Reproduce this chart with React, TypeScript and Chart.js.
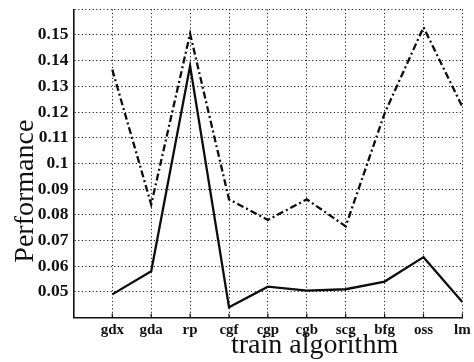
import React, { useEffect, useRef } from "react";
import { Chart, registerables } from "chart.js";

Chart.register(...registerables);

// Training algorithms along the x axis
const algorithms = ["gdx", "gda", "rp", "cgf", "cgp", "cgb", "scg", "bfg", "oss", "lm"];

// Performance of each training algorithm (solid curve)
const performanceA = [0.049, 0.058, 0.138, 0.044, 0.052, 0.0505, 0.051, 0.054, 0.0635, 0.046];

// Performance of each training algorithm (dash-dot curve)
const performanceB = [0.1365, 0.084, 0.1505, 0.086, 0.078, 0.086, 0.0755, 0.1195, 0.153, 0.122];

const yMin = 0.04;
const yMax = 0.16;
const yStep = 0.01;

const xTitle = "train algorithm";
const yTitle = "Performance";

const FONT = '"Liberation Serif", "Times New Roman", serif';

const titlesPlugin = {
  id: "axisTitles",
  afterDraw(chart: any) {
    const { ctx, chartArea } = chart;
    ctx.save();
    ctx.fillStyle = "#111";
    ctx.font = `28px ${FONT}`;
    ctx.textBaseline = "alphabetic";
    ctx.textAlign = "center";
    // x title, sitting under the tick labels
    ctx.fillText(xTitle, chartArea.left + (chartArea.right - chartArea.left) * 0.62, 353);
    // y title, rotated
    ctx.translate(33, chartArea.top + (chartArea.bottom - chartArea.top) * 0.59);
    ctx.rotate(-Math.PI / 2);
    ctx.fillText(yTitle, 0, 0);
    ctx.restore();
  },
};

const innerTicksPlugin = {
  id: "innerTicks",
  afterDatasetsDraw(chart: any) {
    const { ctx, chartArea, scales } = chart;
    const x = scales.x;
    ctx.save();
    ctx.strokeStyle = "#111";
    ctx.lineWidth = 1.2;
    ctx.beginPath();
    for (let i = 1; i <= algorithms.length; i++) {
      const px = x.getPixelForValue(i);
      ctx.moveTo(px, chartArea.bottom);
      ctx.lineTo(px, chartArea.bottom - 4);
    }
    ctx.stroke();
    ctx.restore();
  },
};

export default function App() {
  const canvasRef = useRef<HTMLCanvasElement | null>(null);

  useEffect(() => {
    const canvas = canvasRef.current;
    if (!canvas) return;

    const chart = new Chart(canvas, {
      type: "line",
      data: {
        datasets: [
          {
            label: "solid",
            data: algorithms.map((_, i) => ({ x: i + 1, y: performanceA[i] })),
            borderColor: "#0d0d0d",
            borderWidth: 2.3,
            pointRadius: 0,
            tension: 0,
            fill: false,
          },
          {
            label: "dashdot",
            data: algorithms.map((_, i) => ({ x: i + 1, y: performanceB[i] })),
            borderColor: "#0d0d0d",
            borderWidth: 2.3,
            borderDash: [7, 3, 2, 3],
            pointRadius: 0,
            tension: 0,
            fill: false,
          },
        ],
      },
      options: {
        responsive: false,
        animation: false,
        layout: { padding: { left: 0, top: 9.3, right: 11.6, bottom: 0 } },
        plugins: {
          legend: { display: false },
          tooltip: { enabled: false },
        },
        scales: {
          x: {
            type: "linear",
            min: 0,
            max: algorithms.length,
            afterFit(scale: any) {
              scale.height = 44.5;
              scale.paddingLeft = 0;
              scale.paddingRight = 0;
            },
            afterBuildTicks(scale: any) {
              scale.ticks = Array.from({ length: algorithms.length + 1 }, (_, i) => ({ value: i }));
            },
            ticks: {
              autoSkip: false,
              maxRotation: 0,
              padding: 4,
              color: "#111",
              font: { family: FONT, size: 15, weight: "bold" },
              callback: (v: any) => algorithms[Number(v) - 1] ?? "",
            },
            grid: {
              color: "#222",
              lineWidth: 1,
              drawTicks: false,
            },
            border: { display: true, color: "#111", width: 1.6, dash: [1.2, 2.4] },
          },
          y: {
            type: "linear",
            min: yMin,
            max: yMax,
            afterFit(scale: any) {
              scale.width = 73.4;
              scale.paddingTop = 0;
              scale.paddingBottom = 0;
            },
            ticks: {
              stepSize: yStep,
              padding: 5,
              color: "#111",
              font: { family: FONT, size: 17.5, weight: "bold" },
              callback: (v: any) => {
                const n = Math.round(Number(v) * 100) / 100;
                if (n <= yMin + 1e-9 || n >= yMax - 1e-9) return "";
                return String(n);
              },
            },
            grid: {
              color: "#222",
              lineWidth: 1,
              drawTicks: false,
            },
            border: { display: true, color: "#111", width: 1.6, dash: [1.2, 2.4] },
          },
        },
      },
      plugins: [titlesPlugin, innerTicksPlugin],
    } as any);

    return () => chart.destroy();
  }, []);

  return (
    <div style={{ position: "fixed", left: 0, top: 0, width: 474, height: 362, background: "#fff" }}>
      <canvas ref={canvasRef} width={474} height={362} style={{ width: 474, height: 362, display: "block" }} />
    </div>
  );
}
